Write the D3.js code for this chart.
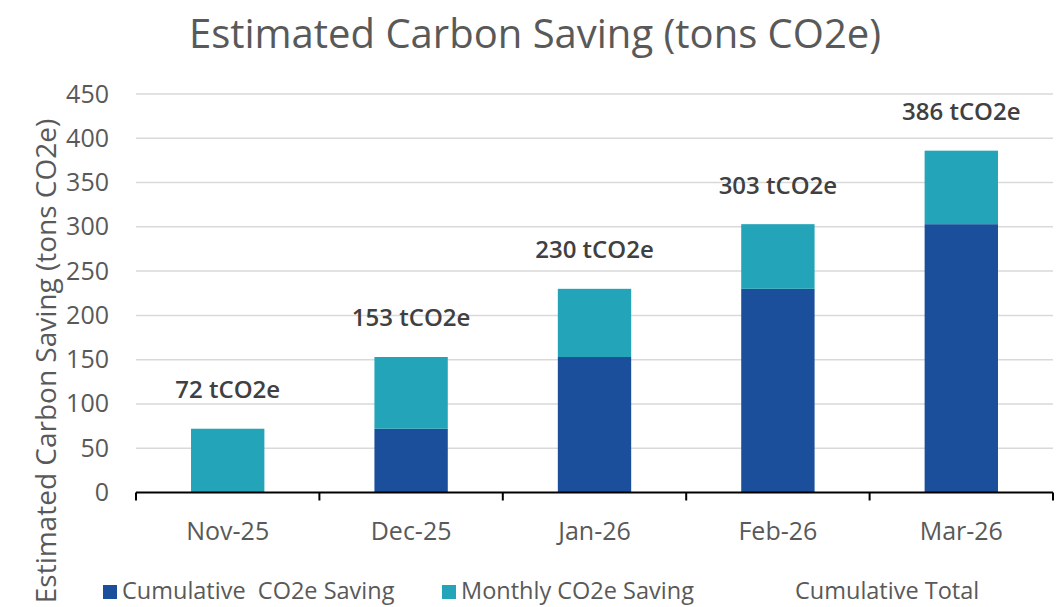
<!DOCTYPE html>
<html>
<head>
<meta charset="utf-8">
<script src="https://cdn.jsdelivr.net/npm/d3@7"></script>
<style>
  html, body { margin: 0; padding: 0; background: #ffffff; }
  svg { display: block; }
  text { font-family: "Open Sans", sans-serif; }
</style>
</head>
<body>
<script>
const categories = ["Nov-25", "Dec-25", "Jan-26", "Feb-26", "Mar-26"];
const cumulativeSaving = [0, 72, 153, 230, 303];
const monthlySaving = [72, 81, 77, 73, 83];
const cumulativeTotal = [72, 153, 230, 303, 386];
const totalLabels = ["72 tCO2e", "153 tCO2e", "230 tCO2e", "303 tCO2e", "386 tCO2e"];
const yTicks = [0, 50, 100, 150, 200, 250, 300, 350, 400, 450];
const seriesNames = ["Cumulative  CO2e Saving", "Monthly CO2e Saving", "Cumulative Total"];

const W = 1063, H = 607;
const colCum = "#1B4F9B", colMon = "#24A4B8";
const svg = d3.select("body").append("svg").attr("width", W).attr("height", H);

const x = d3.scaleBand().domain(categories).range([136, 1053]).padding(0);
const y = d3.scaleLinear().domain([0, 450]).range([492.5, 94]);
const barW = x.bandwidth() * 0.4;

// title
svg.append("text").attr("x", 535).attr("y", 48).attr("text-anchor", "middle")
  .attr("font-size", 40).attr("fill", "#595959").text("Estimated Carbon Saving (tons CO2e)");

// gridlines
svg.append("g").selectAll("line").data(yTicks.filter(d => d > 0)).join("line")
  .attr("x1", 136).attr("x2", 1053).attr("y1", d => y(d)).attr("y2", d => y(d))
  .attr("stroke", "#d9d9d9").attr("stroke-width", 1.5);

// y axis labels
const yAxis = d3.axisLeft(y).tickValues(yTicks).tickSize(0).tickPadding(0);
const gy = svg.append("g").attr("transform", "translate(109,0)").call(yAxis);
gy.select(".domain").remove();
gy.selectAll("text").attr("font-size", 25).attr("fill", "#595959").attr("font-family", "Open Sans");

// y axis title
svg.append("text").attr("transform", "translate(46,361) rotate(-90)").attr("text-anchor", "middle")
  .attr("dy", "0.35em")
  .attr("font-size", 28).attr("fill", "#595959").text("Estimated Carbon Saving (tons CO2e)");

// bars
const data = categories.map((c, i) => ({ c, cum: cumulativeSaving[i], mon: monthlySaving[i], tot: cumulativeTotal[i], lab: totalLabels[i] }));
svg.append("g").selectAll("rect").data(data).join("rect")
  .attr("x", d => x(d.c) + (x.bandwidth() - barW) / 2).attr("width", barW)
  .attr("y", d => y(d.cum)).attr("height", d => y(0) - y(d.cum)).attr("fill", colCum);
svg.append("g").selectAll("rect").data(data).join("rect")
  .attr("x", d => x(d.c) + (x.bandwidth() - barW) / 2).attr("width", barW)
  .attr("y", d => y(d.cum + d.mon)).attr("height", d => y(d.cum) - y(d.cum + d.mon)).attr("fill", colMon);

// x axis
const xAxis = d3.axisBottom(x).tickSize(0).tickPadding(0);
const gx = svg.append("g").attr("transform", `translate(0,${y(0)})`).call(xAxis);
gx.select(".domain").remove();
gx.selectAll("text").attr("font-size", 25).attr("fill", "#595959").attr("dy", 0).attr("y", 47).attr("font-family", "Open Sans");
svg.append("line").attr("x1", 136).attr("x2", 1053).attr("y1", y(0)).attr("y2", y(0))
  .attr("stroke", "#000").attr("stroke-width", 2);
const bounds = categories.map(c => x(c)).concat([x.range()[1]]);
svg.append("g").selectAll("line").data(bounds).join("line")
  .attr("x1", d => d).attr("x2", d => d).attr("y1", y(0)).attr("y2", y(0) + 8)
  .attr("stroke", "#000").attr("stroke-width", 2);

// total labels
svg.append("g").selectAll("text").data(data).join("text")
  .attr("x", d => x(d.c) + x.bandwidth() / 2).attr("y", d => y(d.tot) - 39).attr("dy", "0.35em")
  .attr("text-anchor", "middle").attr("font-size", 24).attr("font-weight", 600).attr("fill", "#404040")
  .text(d => d.lab);

// legend
const leg = svg.append("g");
leg.append("rect").attr("x", 103).attr("y", 585).attr("width", 14).attr("height", 14).attr("fill", colCum);
leg.append("text").attr("x", 122).attr("y", 599).attr("font-size", 23.5).attr("fill", "#595959").attr("xml:space", "preserve").text(seriesNames[0]);
leg.append("rect").attr("x", 442).attr("y", 585).attr("width", 14).attr("height", 14).attr("fill", colMon);
leg.append("text").attr("x", 461).attr("y", 599).attr("font-size", 23.5).attr("fill", "#595959").text(seriesNames[1]);
leg.append("text").attr("x", 795).attr("y", 599).attr("font-size", 23.5).attr("fill", "#595959").text(seriesNames[2]);
</script>
</body>
</html>
